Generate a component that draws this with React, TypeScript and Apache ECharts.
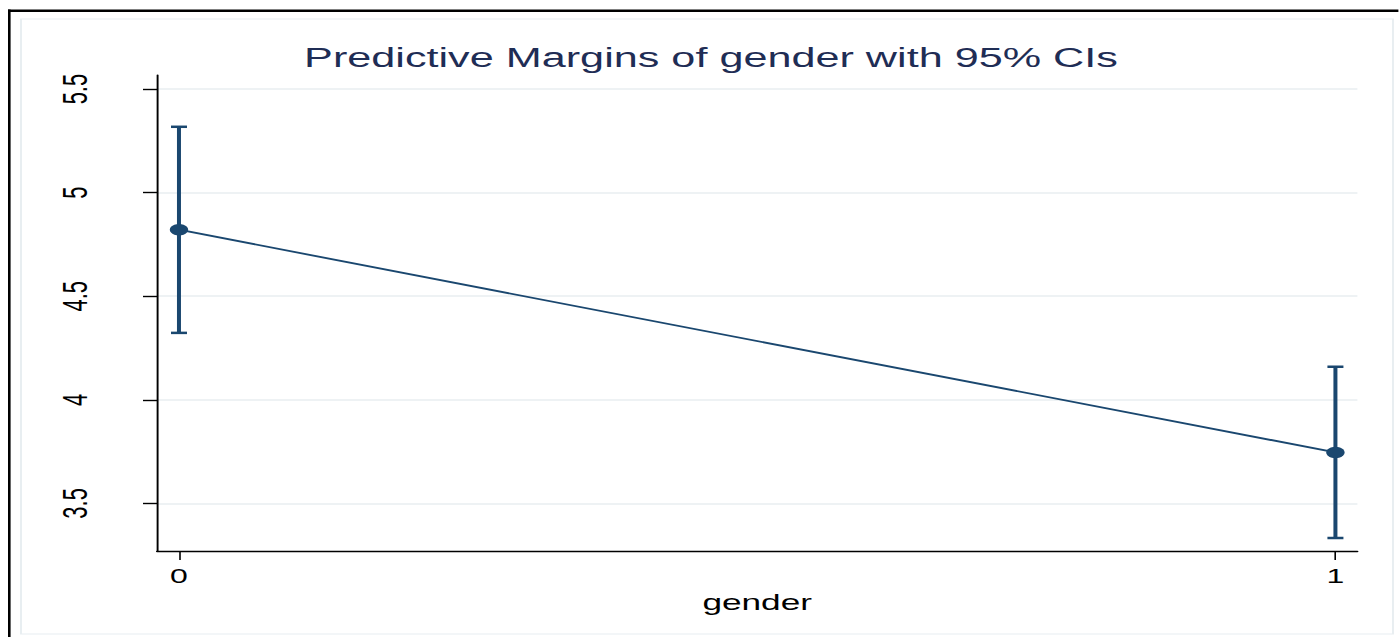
import React, { useEffect, useRef } from "react";
import * as echarts from "echarts";

// Predictive margins by gender, with 95% confidence intervals
const genderLevels = [0, 1];
const margins = [4.821, 3.746];
const ciLower = [4.323, 3.333];
const ciUpper = [5.318, 4.159];
const yTicks = [3.5, 4, 4.5, 5, 5.5];
const xTicks = [0, 1];

const PAGE_W = 1399;
const PAGE_H = 637;
// Stata's exported graph is stretched horizontally; the chart is laid out on a
// narrower canvas and widened by this factor.
const STRETCH = 1.6;
const W0 = PAGE_W / STRETCH;
const ix = (px: number) => px / STRETCH;

const NAVY = "#1a476f";
const TITLE_COLOR = "#1f2d55";
const GRID_COLOR = "#e8eef1";
const FONT = "'Liberation Sans', Arial, Helvetica, sans-serif";

export default function App() {
  const ref = useRef<HTMLDivElement>(null);

  useEffect(() => {
    if (!ref.current) return;
    const chart = echarts.init(ref.current, undefined, { renderer: "svg" });

    const lineData = genderLevels.map((g, i) => [g, margins[i]]);
    const ciData = genderLevels.map((g, i) => [g, ciLower[i], ciUpper[i]]);

    chart.setOption({
      animation: false,
      backgroundColor: "#ffffff",
      grid: {
        left: ix(157),
        right: W0 - ix(1358),
        top: 75,
        bottom: PAGE_H - 551,
        containLabel: false,
      },
      graphic: [
        // outer black frame (top and left edges)
        { type: "rect", shape: { x: ix(8), y: 9.5, width: W0, height: 2.5 }, style: { fill: "#000" }, silent: true },
        { type: "rect", shape: { x: ix(8), y: 9.5, width: ix(2.6), height: PAGE_H }, style: { fill: "#000" }, silent: true },
        // inner light frame
        {
          type: "rect",
          shape: { x: ix(21), y: 19, width: ix(1393 - 21), height: 634 - 19 },
          style: { fill: "none", stroke: GRID_COLOR, lineWidth: 1.2 },
          silent: true,
        },
        {
          type: "text",
          x: ix(711),
          y: 57.5,
          style: {
            text: "Predictive Margins of gender with 95% CIs",
            align: "center",
            verticalAlign: "middle",
            fill: TITLE_COLOR,
            font: `27px ${FONT}`,
          },
          silent: true,
        },
      ],
      xAxis: {
        type: "value",
        min: -0.019,
        max: 1.019,
        name: "gender",
        nameLocation: "middle",
        nameGap: 32,
        nameTextStyle: { color: "#000", fontSize: 22, fontFamily: FONT },
        axisLine: { show: true, onZero: false, lineStyle: { color: "#000", width: 1.3 } },
        axisTick: { show: true, length: 9, customValues: xTicks, lineStyle: { color: "#000", width: 1 } },
        axisLabel: {
          customValues: xTicks,
          margin: 15,
          color: "#000",
          fontSize: 20,
          fontFamily: FONT,
          formatter: (v: number) => String(v),
        },
        splitLine: { show: false },
      },
      yAxis: {
        type: "value",
        min: 3.27,
        max: 5.568,
        axisLine: { show: true, onZero: false, lineStyle: { color: "#000", width: 1.2 } },
        axisTick: { show: true, length: ix(14), customValues: yTicks, lineStyle: { color: "#000", width: 1.4 } },
        axisLabel: {
          customValues: yTicks,
          rotate: 90,
          margin: 40.5,
          color: "#000",
          fontSize: 22,
          fontFamily: FONT,
          formatter: (v: number) => String(v),
        },
        splitLine: { show: true, customValues: yTicks, lineStyle: { color: GRID_COLOR, width: 1.5 } },
      },
      series: [
        {
          type: "custom",
          name: "95% CI",
          data: ciData,
          z: 2,
          renderItem: (_params: any, api: any) => {
            const x = api.value(0);
            const top = api.coord([x, api.value(2)]);
            const bot = api.coord([x, api.value(1)]);
            const half = ix(8);
            const style = { stroke: NAVY, lineWidth: 2.5, fill: "none" };
            return {
              type: "group",
              children: [
                { type: "line", shape: { x1: top[0], y1: top[1], x2: bot[0], y2: bot[1] }, style },
                { type: "line", shape: { x1: top[0] - half, y1: top[1], x2: top[0] + half, y2: top[1] }, style },
                { type: "line", shape: { x1: bot[0] - half, y1: bot[1], x2: bot[0] + half, y2: bot[1] }, style },
              ],
            };
          },
        },
        {
          type: "line",
          name: "Margin",
          data: lineData,
          z: 3,
          symbol: "circle",
          symbolSize: 11.5,
          lineStyle: { color: NAVY, width: 1.8 },
          itemStyle: { color: NAVY },
        },
      ],
    });

    return () => chart.dispose();
  }, []);

  return (
    <div
      style={{
        position: "fixed",
        left: 0,
        top: 0,
        width: PAGE_W,
        height: PAGE_H,
        overflow: "hidden",
        background: "#fff",
      }}
    >
      <div
        ref={ref}
        style={{
          width: W0,
          height: PAGE_H,
          transform: `scaleX(${STRETCH})`,
          transformOrigin: "0 0",
        }}
      />
    </div>
  );
}
